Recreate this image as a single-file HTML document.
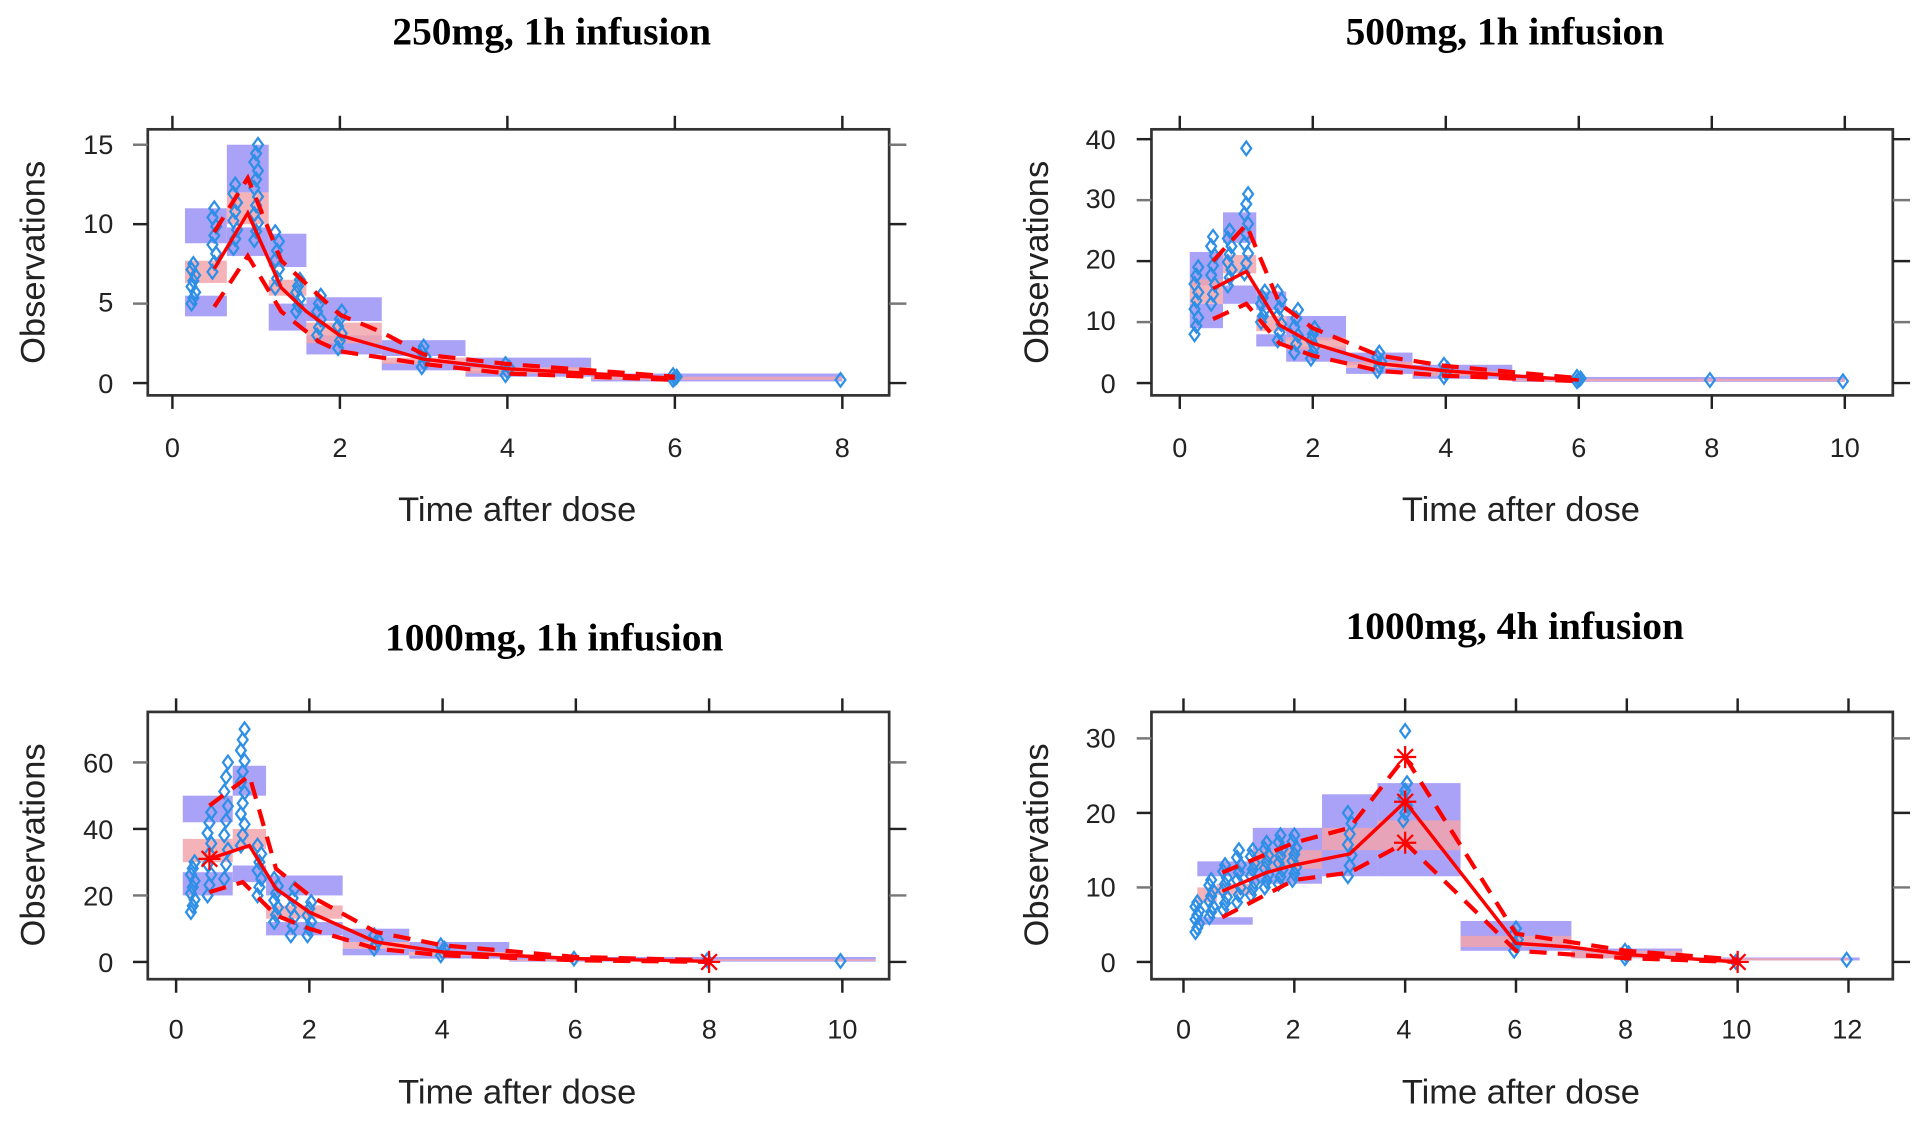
<!DOCTYPE html>
<html><head><meta charset="utf-8"><style>
html,body{margin:0;padding:0;background:#fff;}
svg{display:block;}
.t{font-family:"Liberation Serif",serif;font-weight:bold;font-size:32px;text-anchor:middle;}
.tk{font-family:"Liberation Sans",sans-serif;font-size:22px;fill:#222;}
.ax{font-family:"Liberation Sans",sans-serif;font-size:28px;fill:#222;text-anchor:middle;}
</style></head><body>
<svg id="s" width="1931" height="1127" viewBox="0 0 1568 915" preserveAspectRatio="none" xmlns="http://www.w3.org/2000/svg">
<g id="shapes"></g>
<text class="t" x="448" y="36">250mg, 1h infusion</text>
<text class="t" x="1222" y="36">500mg, 1h infusion</text>
<text class="t" x="450" y="528">1000mg, 1h infusion</text>
<text class="t" x="1230" y="519">1000mg, 4h infusion</text>
<text class="ax" x="420" y="423">Time after dose</text>
<text class="ax" x="1235" y="423">Time after dose</text>
<text class="ax" x="420" y="896">Time after dose</text>
<text class="ax" x="1235" y="896">Time after dose</text>
<text class="ax" transform="translate(36,213) rotate(-90)">Observations</text>
<text class="ax" transform="translate(851,213) rotate(-90)">Observations</text>
<text class="ax" transform="translate(36,686) rotate(-90)">Observations</text>
<text class="ax" transform="translate(851,686) rotate(-90)">Observations</text>
<g class="tk" text-anchor="middle">
<text x="140" y="371">0</text><text x="276" y="371">2</text><text x="412" y="371">4</text><text x="548" y="371">6</text><text x="684" y="371">8</text>
<text x="958" y="371">0</text><text x="1066" y="371">2</text><text x="1174" y="371">4</text><text x="1282" y="371">6</text><text x="1390" y="371">8</text><text x="1498" y="371">10</text>
<text x="143" y="843">0</text><text x="251" y="843">2</text><text x="359" y="843">4</text><text x="467" y="843">6</text><text x="576" y="843">8</text><text x="684" y="843">10</text>
<text x="961" y="843">0</text><text x="1050" y="843">2</text><text x="1140" y="843">4</text><text x="1230" y="843">6</text><text x="1320" y="843">8</text><text x="1410" y="843">10</text><text x="1500" y="843">12</text>
</g>
<g class="tk" text-anchor="end">
<text x="92" y="319">0</text><text x="92" y="253">5</text><text x="92" y="189">10</text><text x="92" y="125">15</text>
<text x="906" y="319">0</text><text x="906" y="268">10</text><text x="906" y="218">20</text><text x="906" y="169">30</text><text x="906" y="121">40</text>
<text x="92" y="789">0</text><text x="92" y="735">20</text><text x="92" y="681">40</text><text x="92" y="627">60</text>
<text x="906" y="789">0</text><text x="906" y="728">10</text><text x="906" y="668">20</text><text x="906" y="607">30</text>
</g>
</svg>
<script>
var NS="http://www.w3.org/2000/svg",G=document.getElementById("shapes");
function el(n,a){var e=document.createElementNS(NS,n);for(var k in a)e.setAttribute(k,a[k]);G.appendChild(e);return e;}
function dia(cx,cy){el("polygon",{points:cx+","+(cy-5.5)+" "+(cx+4)+","+cy+" "+cx+","+(cy+5.5)+" "+(cx-4)+","+cy,fill:"none",stroke:"#2e8fe6","stroke-width":1.8});}
function panel(P){
 var X=function(t){return P.x0+t*P.xs},Y=function(v){return P.y0-v*P.ys};
 var bx=P.box;
 P.blue.forEach(function(b){el("rect",{x:X(b[0]),y:Y(b[3]),width:X(b[1])-X(b[0]),height:Y(b[2])-Y(b[3]),fill:"#aaa2f6"});});
 P.pink.forEach(function(b){el("rect",{x:X(b[0]),y:Y(b[3]),width:X(b[1])-X(b[0]),height:Y(b[2])-Y(b[3]),fill:"#f2a4ad",opacity:0.85});});
 P.pts.forEach(function(p){var n=p[3]||6;for(var i=0;i<n;i++){var v=n==1?p[1]:p[1]+(p[2]-p[1])*i/(n-1);var jit=((i*37)%3-1)*1.5;
  dia(X(p[0])+jit,Y(v));}});
 (P.extra||[]).forEach(function(p){dia(X(p[0]),Y(p[1]));});
 function line(a,d){el("polyline",{points:a.map(function(q){return X(q[0])+","+Y(q[1])}).join(" "),fill:"none",stroke:"#f00","stroke-width":d?3.4:2.8,"stroke-dasharray":d?"14,9":"none"});}
 line(P.med,0);line(P.up,1);line(P.lo,1);
 (P.stars||[]).forEach(function(s){var cx=X(s[0]),cy=Y(s[1]);for(var a=0;a<4;a++){var r=a*Math.PI/4;el("line",{x1:cx-9*Math.cos(r),y1:cy-9*Math.sin(r),x2:cx+9*Math.cos(r),y2:cy+9*Math.sin(r),stroke:"#f00","stroke-width":1.8});}});
 el("rect",{x:bx[0],y:bx[1],width:bx[2]-bx[0],height:bx[3]-bx[1],fill:"none",stroke:"#333","stroke-width":2.2});
 P.xt.forEach(function(t){el("line",{x1:X(t),x2:X(t),y1:bx[1]-11,y2:bx[1],stroke:"#222","stroke-width":2});el("line",{x1:X(t),x2:X(t),y1:bx[3],y2:bx[3]+11,stroke:"#222","stroke-width":2});});
 P.yt.forEach(function(v,i){var c=i%2?"#777":"#222";el("line",{x1:bx[0]-12,x2:bx[0],y1:Y(v),y2:Y(v),stroke:c,"stroke-width":2});el("line",{x1:bx[2],x2:bx[2]+14,y1:Y(v),y2:Y(v),stroke:c,"stroke-width":2});});
}
panel({box:[120,105,722,321],x0:140,xs:68,y0:311,ys:12.9,xt:[0,2,4,6,8],yt:[0,5,10,15],
 blue:[[0.15,0.65,8.8,11],[0.65,1.15,12,15],[1.15,1.6,7.3,9.4],[1.6,2.5,3.9,5.4],[2.5,3.5,1.7,2.7],[3.5,5,0.9,1.6],[5,8,0.3,0.6],
  [0.15,0.65,4.2,5.5],[0.65,1.15,8,9.8],[1.15,1.6,3.3,5],[1.6,2.5,1.8,3],[2.5,3.5,0.8,1.3],[3.5,5,0.4,0.8],[5,8,0.1,0.3]],
 pink:[[0.15,0.65,6.3,7.7],[0.65,1.15,10,12],[1.15,1.6,5.5,6.5],[1.6,2.5,2.5,3.8],[2.5,3.5,1.2,1.6],[3.5,5,0.6,1],[5,8,0.2,0.4]],
 pts:[[0.25,5,7.5,8],[0.5,7,11,8],[0.75,8.5,12.5,8],[1,9,15,12],[1.25,6,9.5,7],[1.5,4.5,6.5,6],[1.75,3,5.5,6],[2,2.2,4.5,6],[3,1,2.3,5],[4,0.5,1.2,4],[6,0.2,0.5,4],[8,0.2,0.2,1]],
 med:[[0.5,7.2],[0.9,10.7],[1.3,6],[1.6,4.5],[2,3],[3,1.5],[4,0.9],[5,0.6],[6,0.3]],
 up:[[0.5,9.5],[0.9,12.9],[1.3,7.7],[1.75,5.5],[2,4.3],[2.5,3.2],[3,1.8],[4,1.2],[6,0.4]],
 lo:[[0.5,4.8],[0.9,8],[1.3,4.5],[1.75,2.6],[2,2],[3,1.2],[4,0.6],[6,0.2]]});
panel({box:[935,105,1537,321],x0:958,xs:54,y0:311,ys:4.95,xt:[0,2,4,6,8,10],yt:[0,10,20,30,40],
 blue:[[0.15,0.65,16,21.5],[0.65,1.15,23,28],[1.15,1.6,12,15],[1.6,2.5,7,11],[2.5,3.5,3,5],[3.5,5,1.5,3],[5,10,0.5,1],
  [0.15,0.65,9,13],[0.65,1.15,13,16],[1.15,1.6,6,8],[1.6,2.5,3.5,6],[2.5,3.5,1.5,2.5],[3.5,5,0.7,1.5],[5,10,0.2,0.5]],
 pink:[[0.15,0.65,13,17],[0.65,1.15,18,21],[1.15,1.6,8.5,11],[1.6,2.5,5.5,7.5],[2.5,3.5,2.5,3.5],[3.5,5,1.2,2],[5,10,0.3,0.7]],
 pts:[[0.25,8,19,9],[0.5,13,24,8],[0.75,16,25,8],[1,18,31,9],[1.25,10,15,6],[1.5,7,15,7],[1.75,5,12,6],[2,4,9,6],[3,2,5,5],[4,1,3,4],[6,0.3,1,4],[8,0.5,0.5,1],[10,0.3,0.3,1]],
 extra:[[1,38.5]],
 med:[[0.5,15.5],[1,18.3],[1.5,9.5],[2,6.5],[3,3.2],[4,2],[5,1.2],[6,0.5]],
 up:[[0.5,20],[1,26],[1.5,13],[2,9],[3,4.5],[4,2.8],[6,0.8]],
 lo:[[0.5,10.5],[1,13],[1.5,6.5],[2,4.5],[3,2],[4,1.2],[6,0.3]]});
panel({box:[120,578,722,795],x0:143,xs:54.1,y0:781,ys:2.7,xt:[0,2,4,6,8,10],yt:[0,20,40,60],
 blue:[[0.1,0.85,42,50],[0.85,1.35,50,59],[1.35,2.5,20,26],[2.5,3.5,6,10],[3.5,5,3,6],[5,10.5,0.5,1.5],
  [0.1,0.85,20,27],[0.85,1.35,24,29],[1.35,2.5,8,12],[2.5,3.5,2,4],[3.5,5,1,2],[5,10.5,0.1,0.5]],
 pink:[[0.1,0.85,30,37],[0.85,1.35,34,40],[1.35,2.5,13,17],[2.5,3.5,4,6],[3.5,5,2,3],[5,10.5,0.3,0.8]],
 pts:[[0.25,15,30,9],[0.5,20,45,9],[0.75,25,60,9],[1,35,70,12],[1.25,20,35,7],[1.5,12,25,7],[1.75,8,22,6],[2,8,18,6],[3,4,8,4],[4,2,5,4],[6,1,1,1],[8,0.5,0.5,1],[10,0.3,0.3,1]],
 med:[[0.5,31],[1.1,35],[1.5,22],[2,15],[3,6],[4,3],[6,1],[8,0.2]],
 up:[[0.5,47],[1.1,56],[1.5,28],[2,20],[3,9],[4,5],[6,1.5],[8,0.5]],
 lo:[[0.5,21],[1,24],[1.5,14],[2,10],[3,4],[4,2],[6,0.5],[8,0]],
 stars:[[0.5,31],[8,0]]});
panel({box:[935,578,1537,795],x0:961,xs:45,y0:781,ys:6.05,xt:[0,2,4,6,8,10,12],yt:[0,10,20,30],
 blue:[[0.25,1.25,11.5,13.5],[1.25,2.5,12,18],[2.5,3.5,11.5,22.5],[3.5,5,11.5,24],[5,7,1.5,5.5],[7,9,0.5,1.8],[9,12.2,0.2,0.6],[0.25,1.25,5,6],[1.25,2.5,10.5,12]],
 pink:[[0.25,0.6,8,10],[0.6,1.25,9,10.5],[1.25,2.5,12.5,15],[2.5,3.5,15,18],[3.5,5,15,19],[5,7,2,3.5],[7,9,0.5,1.5],[9,12,0.2,0.5]],
 pts:[[0.25,4,8,8],[0.5,6,11,8],[0.75,7,13,8],[1,8,15,8],[1.25,9,15,8],[1.5,10,16,8],[1.75,10.5,17,8],[2,11,17,8],[3,11.5,20,7],[4,19,24,6],[6,1.5,4.5,5],[8,0.5,1.5,4],[10,0,0,1],[12,0.3,0.3,1]],
 extra:[[4,31]],
 med:[[0.7,9.5],[1.5,12],[2,13],[3,14.5],[4,21.5],[6,2.5],[7,2],[8,1],[10,0]],
 up:[[0.7,12],[2,16],[3,18],[4,27.5],[6,3.8],[8,1.5],[10,0.3]],
 lo:[[0.7,6],[2,11],[3,12],[4,16],[6,1.5],[8,0.5],[10,0]],
 stars:[[4,27.5],[4,21.5],[4,16],[10,0]]});
</script>
</body></html>
